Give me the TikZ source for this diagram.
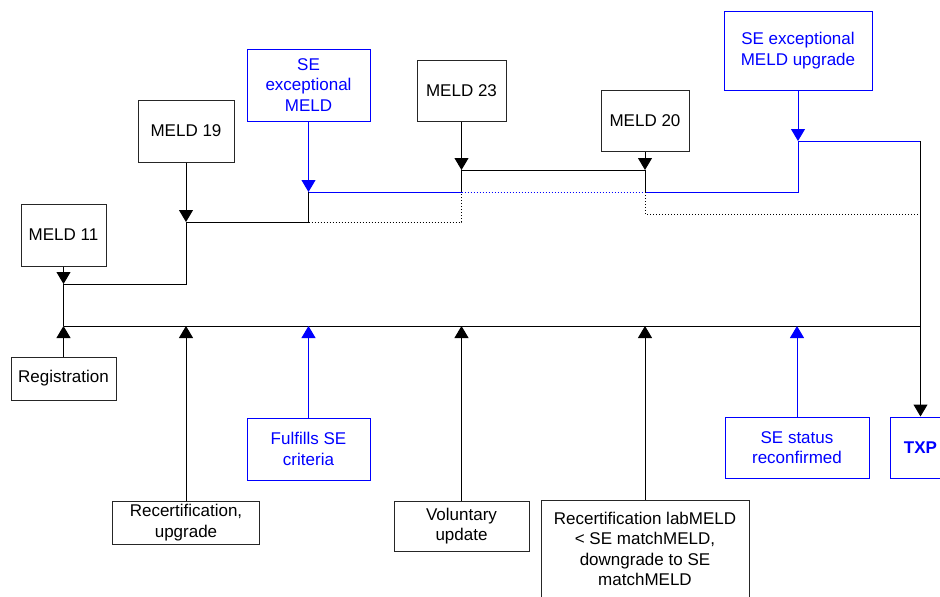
\documentclass[tikz,border=0pt]{standalone}
\usepackage{fontspec}
\setmainfont{Liberation Sans}
\usetikzlibrary{arrows.meta}
\definecolor{seblue}{RGB}{0,0,255}
\begin{document}
\begin{tikzpicture}[x=1pt,y=-1pt,
  font=\fontsize{17}{20.6}\selectfont,
  box/.style={draw=black!85, line width=1pt, inner sep=0pt, align=center, text=black},
  sebox/.style={box, draw=seblue, text=seblue},
  link/.style={line width=1pt, black},
  selink/.style={line width=1pt, seblue},
  headtip/.style={-{Triangle[width=14pt,length=12pt]}},
  dots/.style={dash pattern=on 1pt off 2pt}
]
\useasboundingbox (0,0) rectangle (940,597);
\clip (0,0) rectangle (940,597);

% score boxes on top
\node[box, minimum width=85pt, minimum height=62pt] (m11) at (63.5,235) {MELD 11};
\node[box, minimum width=96pt, minimum height=62pt] (m19) at (186,131) {MELD 19};
\node[sebox, minimum width=123pt, minimum height=72pt] (se1) at (308.5,85) {SE\\exceptional\\MELD};
\node[box, minimum width=89pt, minimum height=61pt] (m23) at (461.5,90.5) {MELD 23};
\node[box, minimum width=88pt, minimum height=61pt] (m20) at (645,121) {MELD 20};
\node[sebox, minimum width=148pt, minimum height=79pt] (se2) at (798,50.5) {SE exceptional\\MELD upgrade};

% event boxes below
\node[box, minimum width=105pt, minimum height=43pt] (reg) at (63.5,378.5) {Registration};
\node[box, minimum width=147pt, minimum height=43pt] (rec) at (186,522.5) {Recertification,\\upgrade};
\node[sebox, minimum width=123pt, minimum height=62pt] (ful) at (308.5,449) {Fulfills SE\\criteria};
\node[box, minimum width=135pt, minimum height=50pt] (vol) at (461.5,526) {Voluntary\\update};
\node[box, minimum width=208pt, minimum height=98pt] (rlab) at (645,549) {Recertification labMELD\\\textless{} SE matchMELD,\\downgrade to SE\\matchMELD};
\node[sebox, minimum width=144pt, minimum height=61pt] (ssr) at (797,447.5) {SE status\\reconfirmed};
\node[sebox, minimum width=60pt, minimum height=61pt, font=\fontsize{17}{20.6}\selectfont\bfseries] (txp) at (920.5,447.5) {TXP};

% junctions
\coordinate (j11) at (63.5,284);
\coordinate (j19) at (186,222);
\coordinate (j1) at (308.5,192);
\coordinate (k23) at (461.5,192);
\coordinate (j23) at (461.5,170);
\coordinate (j20) at (645,170);
\coordinate (k20) at (645,192);
\coordinate (j2) at (798,141);
\coordinate (r2) at (920.5,141);
\coordinate (d1) at (461.5,222);
\coordinate (d2) at (645,214);
\coordinate (d3) at (920.5,214);
\coordinate (ml) at (63.5,326);
\coordinate (mr) at (920.5,326);

% MELD history line
\draw[link, headtip] (m11.south) -- (j11);
\draw[link] (j11) -- (ml);
\draw[link] (j11) -| (j19);
\draw[link, headtip] (m19.south) -- (j19);
\draw[link] (j19) -| (j1);
\draw[selink, headtip] (se1.south) -- (j1);
\draw[selink] (j1) -- (k23);
\draw[selink, dots] (k23) -- (k20);
\draw[selink] (k20) -| (j2);
\draw[selink, headtip] (se2.south) -- (j2);
\draw[selink] (j2) -- (r2);
\draw[link, headtip] (r2) -- (txp.north);
\draw[link, dots] (j1 |- d1) -- (d1) -- (k23);
\draw[link] (k23) -- (j23) -- (j20) -- (k20);
\draw[link, headtip] (m23.south) -- (j23);
\draw[link, headtip] (m20.south) -- (j20);
\draw[link, dots] (k20) -- (d2) -- (d3);

% event line
\draw[link] (ml) -- (mr);
\draw[link, headtip] (reg.north) -- (reg.north |- ml);
\draw[link, headtip] (rec.north) -- (rec.north |- ml);
\draw[selink, headtip] (ful.north) -- (ful.north |- ml);
\draw[link, headtip] (vol.north) -- (vol.north |- ml);
\draw[link, headtip] (rlab.north) -- (rlab.north |- ml);
\draw[selink, headtip] (ssr.north) -- (ssr.north |- ml);
\end{tikzpicture}
\end{document}
